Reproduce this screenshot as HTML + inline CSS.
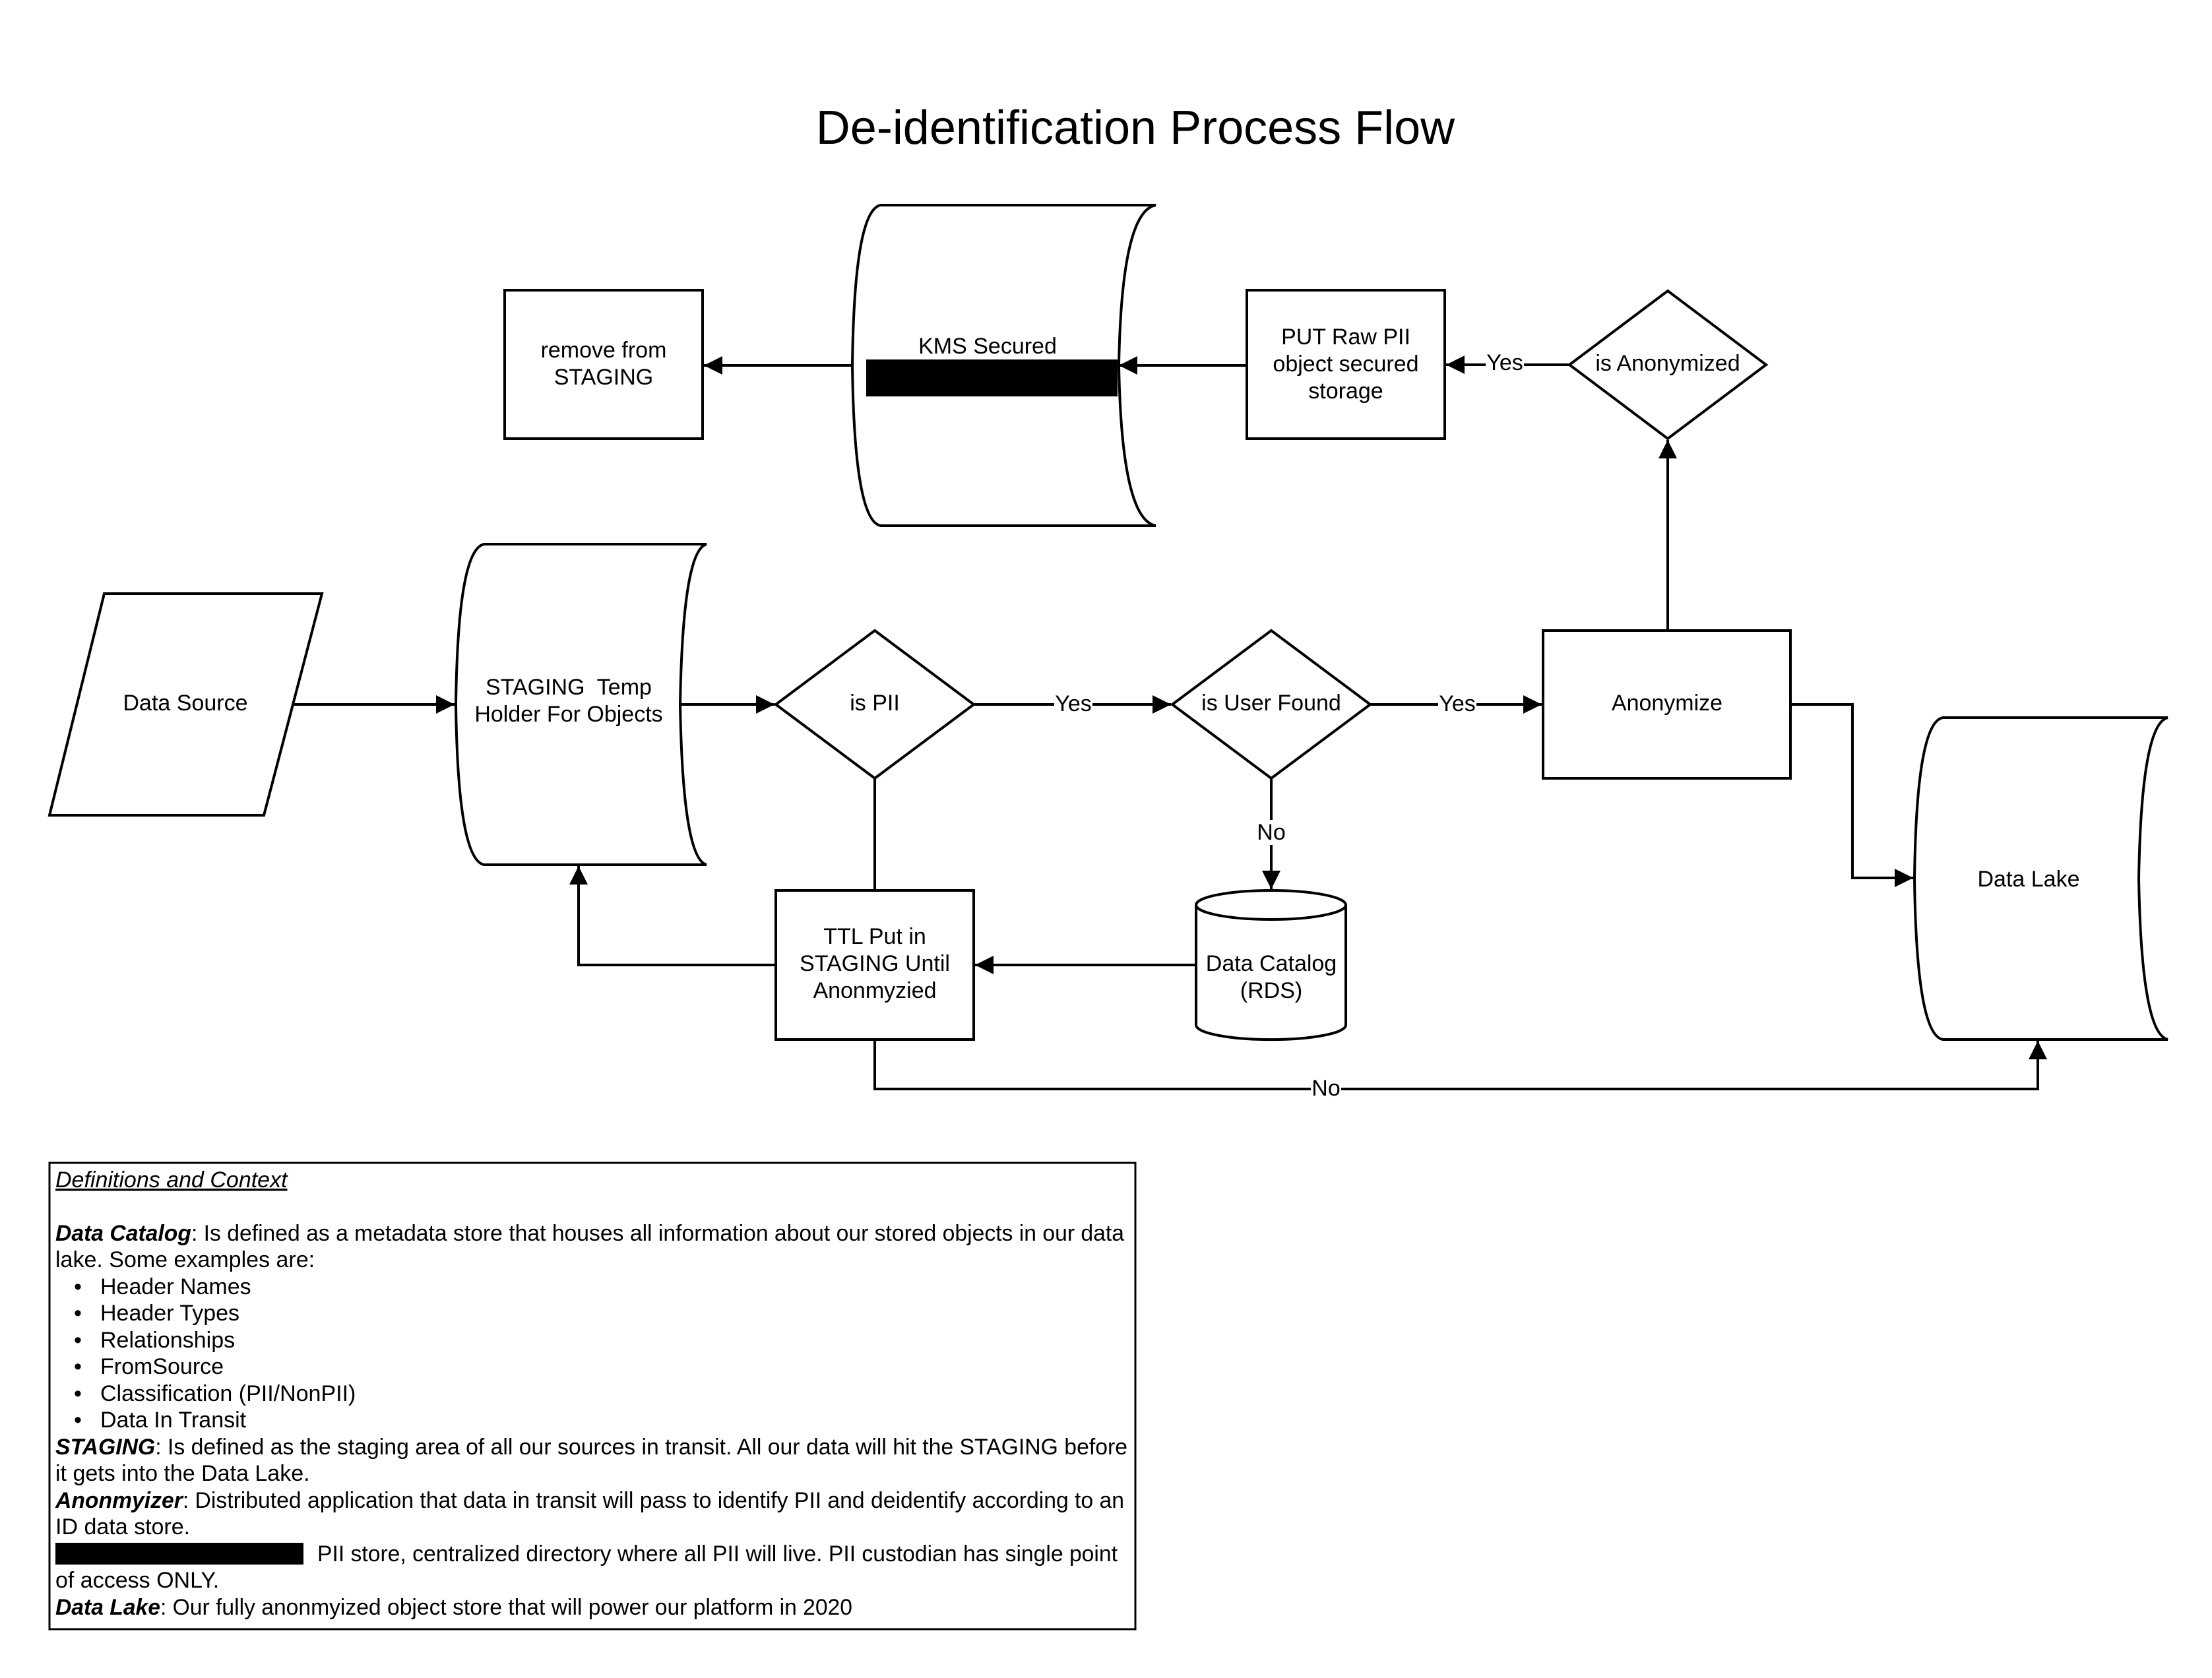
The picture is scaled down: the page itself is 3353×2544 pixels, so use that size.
<!DOCTYPE html>
<html><head><meta charset="utf-8"><style>
html,body{margin:0;padding:0;background:#fff;}
svg{display:block;}
text{font-family:"Liberation Sans",Arial,sans-serif;fill:#000;}
</style></head><body>
<svg width="3353" height="2544" viewBox="0 0 3353 2544" xmlns="http://www.w3.org/2000/svg">
<defs>
<marker id="ah" viewBox="0 0 10 10" refX="10" refY="5" markerWidth="8" markerHeight="7" markerUnits="strokeWidth" orient="auto"><path d="M0,0 L10,5 L0,10 z" fill="#000"/></marker>
</defs>
<rect width="3353" height="2544" fill="#fff"/>
<text x="1721" y="218" font-size="72" text-anchor="middle">De-identification Process Flow</text>

<g fill="#fff" stroke="#000" stroke-width="4">
<rect x="765" y="440" width="300" height="225"/>
<path d="M1335,311 L1752,311 Q1700,320 1696,554 Q1700,788 1752,797 L1335,797 Q1295,790 1292,554 Q1295,318 1335,311 Z"/>
<rect x="1890" y="440" width="300" height="225"/>
<path d="M2528,441 L2677,553 L2528,665 L2379,553 Z"/>
<path d="M158,900 L488,900 L400,1236 L75,1236 Z"/>
<path d="M734,825 L1071,825 Q1035,834 1031,1068 Q1035,1302 1071,1311 L734,1311 Q694,1304 691,1068 Q694,832 734,825 Z"/>
<path d="M1326,956 L1476,1068 L1326,1180 L1176,1068 Z"/>
<path d="M1927,956 L2077,1068 L1927,1180 L1777,1068 Z"/>
<rect x="2339" y="956" width="375" height="224"/>
<path d="M2945,1088 L3286,1088 Q3246,1097 3242,1332 Q3246,1567 3286,1576 L2945,1576 Q2905,1569 2902,1332 Q2905,1095 2945,1088 Z"/>
<rect x="1176" y="1350" width="300" height="226"/>
<path d="M1813,1372 L1813,1554 A113,22 0 0 0 2040,1554 L2040,1372"/>
<ellipse cx="1926.5" cy="1372" rx="113.5" ry="22"/>
<rect x="75" y="1763" width="1646" height="707" stroke-width="3"/>
</g>
<rect x="1313" y="545" width="381" height="56" fill="#000"/>

<g fill="none" stroke="#000" stroke-width="4">
<line x1="1292" y1="554" x2="1067" y2="554" marker-end="url(#ah)"/>
<line x1="1890" y1="554" x2="1696" y2="554" marker-end="url(#ah)"/>
<line x1="2379" y1="553" x2="2192" y2="553" marker-end="url(#ah)"/>
<line x1="2528" y1="956" x2="2528" y2="667" marker-end="url(#ah)"/>
<line x1="445" y1="1068" x2="689" y2="1068" marker-end="url(#ah)"/>
<line x1="1031" y1="1068" x2="1174" y2="1068" marker-end="url(#ah)"/>
<line x1="1476" y1="1068" x2="1775" y2="1068" marker-end="url(#ah)"/>
<line x1="2077" y1="1068" x2="2337" y2="1068" marker-end="url(#ah)"/>
<line x1="1927" y1="1180" x2="1927" y2="1348" marker-end="url(#ah)"/>
<line x1="1813" y1="1463" x2="1478" y2="1463" marker-end="url(#ah)"/>
<polyline points="1176,1463 877,1463 877,1313" marker-end="url(#ah)"/>
<line x1="1326" y1="1180" x2="1326" y2="1350"/>
<polyline points="1326,1576 1326,1651 3089,1651 3089,1578" marker-end="url(#ah)"/>
<polyline points="2714,1068 2808,1068 2808,1331 2900,1331" marker-end="url(#ah)"/>
</g>

<g fill="#fff">
<rect x="1598" y="1048" width="58" height="38"/>
<rect x="2180" y="1048" width="58" height="38"/>
<rect x="2252" y="533" width="58" height="38"/>
<rect x="1904" y="1243" width="46" height="38"/>
<rect x="1987" y="1632" width="46" height="36"/>
</g>
<g font-size="34" text-anchor="middle">
<text x="1627" y="1078">Yes</text>
<text x="2209" y="1078">Yes</text>
<text x="2281" y="561">Yes</text>
<text x="1927" y="1273">No</text>
<text x="2010" y="1661">No</text>

<text x="915" y="542">remove from</text>
<text x="915" y="583">STAGING</text>
<text x="1497" y="536">KMS Secured</text>
<text x="2040" y="522">PUT Raw PII</text>
<text x="2040" y="563">object secured</text>
<text x="2040" y="604">storage</text>
<text x="2528" y="562">is Anonymized</text>
<text x="281" y="1077">Data Source</text>
<text x="862" y="1053">STAGING&#160; Temp</text>
<text x="862" y="1094">Holder For Objects</text>
<text x="1326" y="1077">is PII</text>
<text x="1927" y="1077">is User Found</text>
<text x="2527" y="1077">Anonymize</text>
<text x="3075" y="1344">Data Lake</text>
<text x="1326" y="1431">TTL Put in</text>
<text x="1326" y="1472">STAGING Until</text>
<text x="1326" y="1513">Anonmyzied</text>
<text x="1927" y="1472">Data Catalog</text>
<text x="1927" y="1513">(RDS)</text>
</g>

<g font-size="34">
<text x="84" y="1800" font-style="italic" text-decoration="underline">Definitions and Context</text>
<text x="84" y="1881" textLength="1620" lengthAdjust="spacingAndGlyphs"><tspan font-weight="bold" font-style="italic">Data Catalog</tspan>: Is defined as a metadata store that houses all information about our stored objects in our data</text>
<text x="84" y="1921">lake. Some examples are:</text>
<text x="112" y="1962">•</text><text x="152" y="1962">Header Names</text>
<text x="112" y="2002">•</text><text x="152" y="2002">Header Types</text>
<text x="112" y="2043">•</text><text x="152" y="2043">Relationships</text>
<text x="112" y="2083">•</text><text x="152" y="2083">FromSource</text>
<text x="112" y="2124">•</text><text x="152" y="2124">Classification (PII/NonPII)</text>
<text x="112" y="2164">•</text><text x="152" y="2164">Data In Transit</text>
<text x="84" y="2205" textLength="1625" lengthAdjust="spacingAndGlyphs"><tspan font-weight="bold" font-style="italic">STAGING</tspan>: Is defined as the staging area of all our sources in transit. All our data will hit the STAGING before</text>
<text x="84" y="2245">it gets into the Data Lake.</text>
<text x="84" y="2286" textLength="1620" lengthAdjust="spacingAndGlyphs"><tspan font-weight="bold" font-style="italic">Anonmyizer</tspan>: Distributed application that data in transit will pass to identify PII and deidentify according to an</text>
<text x="84" y="2326">ID data store.</text>
<text x="481" y="2367" textLength="1213" lengthAdjust="spacingAndGlyphs">PII store, centralized directory where all PII will live. PII custodian has single point</text>
<text x="84" y="2407">of access ONLY.</text>
<text x="84" y="2448" textLength="1208" lengthAdjust="spacingAndGlyphs"><tspan font-weight="bold" font-style="italic">Data Lake</tspan>: Our fully anonmyized object store that will power our platform in 2020</text>
</g>
<rect x="84" y="2339" width="376" height="33" fill="#000"/>
</svg>
</body></html>
